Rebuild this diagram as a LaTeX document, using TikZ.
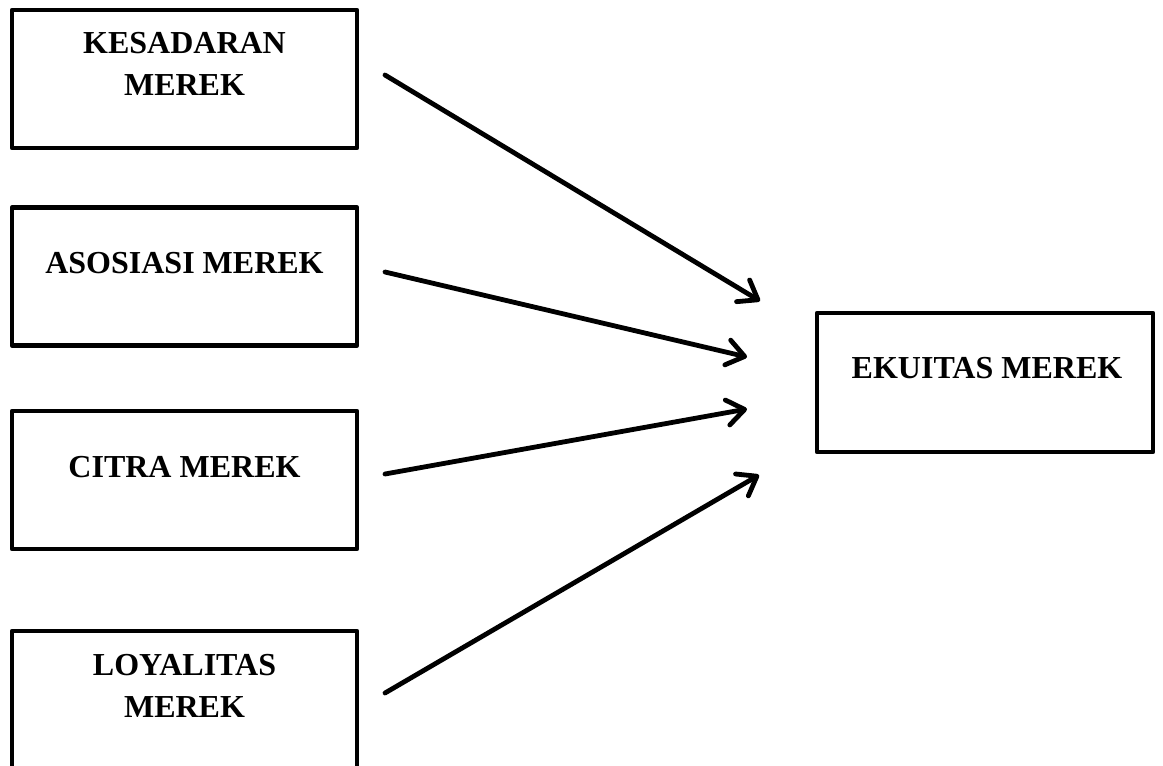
\documentclass[tikz,border=0pt]{standalone}
\usepackage{fontspec}
\setmainfont{Liberation Serif}
\usepackage{xcolor}
\usetikzlibrary{arrows.meta}
\definecolor{blackmain}{HTML}{000000}
\tikzset{
  box/.style={draw=blackmain,line width=3.3pt,line join=round,minimum width=#1*0.75pt,minimum height=103.5pt,inner sep=0pt},
  box/.default=345,
  lbl/.style={font=\fontsize{24}{31.5}\selectfont\bfseries,align=center,inner sep=0pt},
  arr/.style={->,blackmain,line width=3.6pt,line cap=round}
}

\begin{document}
\begin{tikzpicture}[x=0.75pt,y=-0.75pt,>={Straight Barb[length=13pt,width=19pt,round]}]
  \useasboundingbox (0,0) rectangle (1163,765);
  \clip (0,0) rectangle (1163,765);
  % left boxes
  \node[box] (kesBox) at (184.5,79) {};
  \node[box] (asoBox) at (184.5,276.5) {};
  \node[box] (citBox) at (184.5,480) {};
  \node[box,minimum height=106.5pt] (loyBox) at (184.5,702) {};
  \node[box=336,minimum height=104.25pt] (ekuBox) at (985,382.5) {};
  \node[lbl,anchor=base] (kesText) at (184.5,95) {KESADARAN\\MEREK};
  \node[lbl,anchor=base] (asoText) at (184.5,273) {ASOSIASI MEREK};
  \node[lbl,anchor=base] (citText) at (184.5,477) {CITRA MEREK};
  \node[lbl,anchor=base] (loyText) at (184.5,717) {LOYALITAS\\MEREK};
  \node[lbl,anchor=base] (ekuText) at (987,378) {EKUITAS MEREK};
  % arrow ends
  \coordinate (kesOut) at (385,75);
  \coordinate (asoOut) at (385,272);
  \coordinate (citOut) at (385,474);
  \coordinate (loyOut) at (385,693);
  \coordinate (ekuIn1) at (760,301);
  \coordinate (ekuIn2) at (747,357);
  \coordinate (ekuIn3) at (747,409);
  \coordinate (ekuIn4) at (759,475);
  \draw[arr] (kesOut) -- (ekuIn1);
  \draw[arr] (asoOut) -- (ekuIn2);
  \draw[arr] (citOut) -- (ekuIn3);
  \draw[arr] (loyOut) -- (ekuIn4);
\end{tikzpicture}
\end{document}
